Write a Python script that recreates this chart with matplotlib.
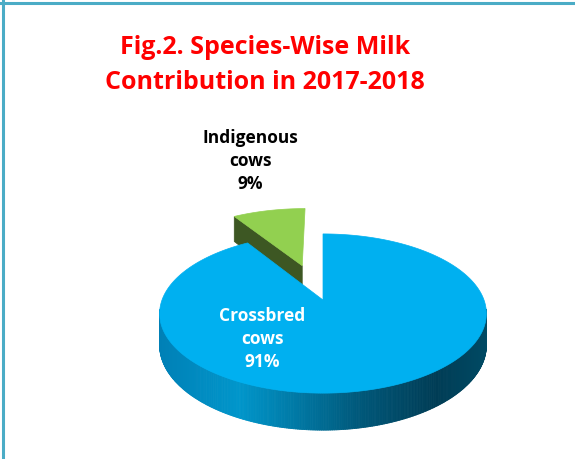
import numpy as np
import matplotlib
matplotlib.use("Agg")
import matplotlib.pyplot as plt
from matplotlib.collections import PolyCollection
from matplotlib.patches import Polygon
from matplotlib.lines import Line2D

# ---- data ----
categories = ["Crossbred\ncows", "Indigenous\ncows"]
values = [91, 9]
explode = [0.0, 0.5]
top_colors = ["#00B0F0", "#92D050"]
side_dark = ["#1a6f95", "#3D5723"]
label_colors = ["white", "black"]
title_lines = ["Fig.2. Species-Wise Milk", "Contribution in 2017-2018"]

# ---- layout (pixel space of a 575x459 canvas) ----
W, H = 575, 459
CX, Y0, AY, C, A0, T0 = 323.0, 300.0, -26.3, 0.17, 161.0, 30.7
FONT = "Open Sans"

fig = plt.figure(figsize=(W / 100, H / 100), dpi=100)
ax = fig.add_axes([0, 0, 1, 1])
ax.set_xlim(0, W)
ax.set_ylim(H, 0)
ax.axis("off")


def proj(u, v, z=0.0):
    d = 1.0 + C * v
    return CX + A0 * u / d, (Y0 + AY * v + T0 * z) / d


# slice angles: start at 12 o'clock, clockwise
fr = np.array(values, float) / np.sum(values)
starts = 90 - 360 * np.concatenate([[0], np.cumsum(fr)[:-1]])
ends = starts - 360 * fr

# side-wall gradient stops (by screen x)
grad_x = [160, 240, 360, 437, 487]
grad_c = [(0, 128, 182), (0, 150, 203), (0, 88, 122), (0, 60, 85), (0, 74, 100)]


def grad(x):
    return tuple(np.interp(x, grad_x, [c[i] for c in grad_c]) / 255 for i in range(3))


def slice_geo(i):
    a0, a1 = ends[i], starts[i]  # math angles, a0 < a1
    mid = np.radians((a0 + a1) / 2)
    ou, ov = explode[i] * np.cos(mid), explode[i] * np.sin(mid)
    return a0, a1, ou, ov


def draw_slice(i, zorder):
    a0, a1, ou, ov = slice_geo(i)
    th = np.radians(np.linspace(a0, a1, 300))
    # radial faces
    for ang, sgn in ((a1, 1), (a0, -1)):
        r = np.radians(ang)
        nrm = (np.cos(r + sgn * np.pi / 2), np.sin(r + sgn * np.pi / 2))
        if nrm[1] < -0.05:
            pts = [proj(ou, ov, 0), proj(ou + np.cos(r), ov + np.sin(r), 0),
                   proj(ou + np.cos(r), ov + np.sin(r), 1), proj(ou, ov, 1)]
            ax.add_patch(Polygon(pts, closed=True, fc=side_dark[i], ec=side_dark[i],
                                 lw=0.5, zorder=zorder))
    # outer wall (front-facing part)
    lo, hi = np.radians(180 + 9.8), np.radians(360 - 9.8)
    tw = np.linspace(a0, a1, 600)
    polys, cols = [], []
    for k in range(len(tw) - 1):
        t1, t2 = np.radians(tw[k]), np.radians(tw[k + 1])
        tm = ((t1 + t2) / 2) % (2 * np.pi)
        if not (lo - 0.05 <= tm <= hi + 0.05):
            continue
        p1 = proj(ou + np.cos(t1), ov + np.sin(t1), 0)
        p2 = proj(ou + np.cos(t2), ov + np.sin(t2), 0)
        p3 = proj(ou + np.cos(t2), ov + np.sin(t2), 1)
        p4 = proj(ou + np.cos(t1), ov + np.sin(t1), 1)
        polys.append([p1, p2, p3, p4])
        cols.append(grad((p1[0] + p2[0]) / 2) if i == 0 else side_dark[i])
    if polys:
        ax.add_collection(PolyCollection(polys, facecolors=cols, edgecolors=cols,
                                         linewidths=0.6, zorder=zorder))
    # top face
    pts = [proj(ou, ov, 0)] + [proj(ou + np.cos(t), ov + np.sin(t), 0) for t in th]
    ax.add_patch(Polygon(pts, closed=True, fc=top_colors[i], ec=top_colors[i],
                         lw=0.5, zorder=zorder + 1))


draw_slice(1, 2)
draw_slice(0, 4)

# data labels
label_pos = [(262, 339), (250, 161)]
for i, (x, y) in enumerate(label_pos):
    ax.text(x, y, f"{categories[i]}\n{values[i]}%", ha="center", va="center",
            color=label_colors[i], fontsize=12.5, fontweight="bold", family=FONT,
            linespacing=1.38, zorder=10)

# title
for line, yb in zip(title_lines, [54, 89]):
    ax.text(265, yb, line, ha="center", va="baseline", color="#FF0000",
            fontsize=18, fontweight="bold", family=FONT, zorder=10)

# chart frame (top and left edges visible)
bc = "#4BACC6"
fig.add_artist(Line2D([0, 1], [1 - 3 / H, 1 - 3 / H], color=bc, lw=2.2,
                      transform=fig.transFigure))
fig.add_artist(Line2D([3 / W, 3 / W], [0, 1], color=bc, lw=2.2,
                      transform=fig.transFigure))

fig.savefig("out.png", dpi=100)
